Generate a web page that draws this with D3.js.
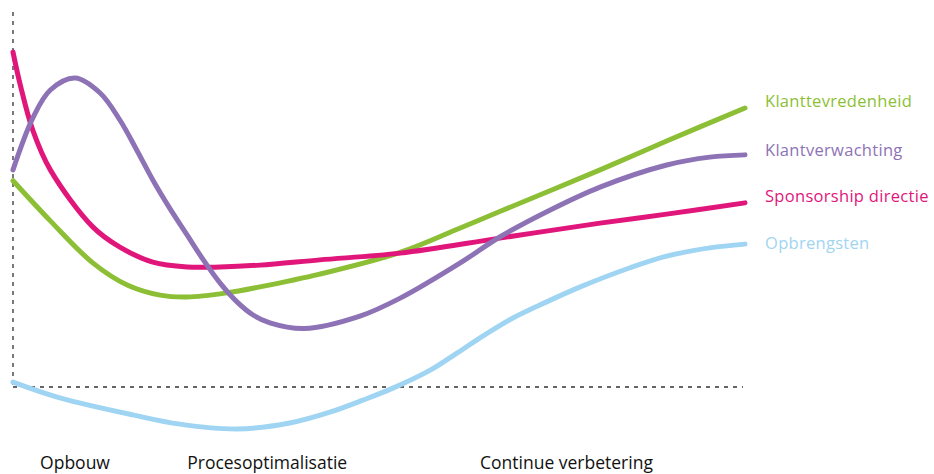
<!DOCTYPE html>
<html>
<head>
<meta charset="utf-8">
<script src="https://cdn.jsdelivr.net/npm/d3@7"></script>
<style>
  html, body { margin: 0; padding: 0; background: #ffffff; }
  svg { display: block; }
  text { font-family: "Open Sans", "Noto Sans", sans-serif; }
</style>
</head>
<body>
<svg id="chart" width="934" height="474"></svg>
<script>
// ---- data (x: 0..100 time, y: value, 0 = baseline) ----
const seriesNames = ["Klanttevredenheid", "Klantverwachting", "Sponsorship directie", "Opbrengsten"];
const seriesColors = ["#8cbf35", "#8d73b6", "#e0167b", "#9fd5f2"];

const klanttevredenheid = [
  [0, 55.0], [5.1, 44.3], [10.9, 33.1], [15.6, 27.2], [20.1, 24.5],
  [23.8, 24.0], [29.2, 25.1], [33.7, 26.7], [41.9, 30.1], [52.9, 35.9], [61.1, 42.4],
  [66.5, 46.8], [80.2, 57.9], [89.3, 65.6], [100, 74.4]
];
const klantverwachting = [
  [0, 57.9], [2.7, 71.7], [5.1, 79.2], [8.5, 82.4], [11.9, 78.4],
  [14.6, 71.2], [16.9, 63.2], [19.1, 55.2], [21.4, 47.7], [23.8, 40.5], [26.0, 33.9],
  [28.3, 27.7], [30.6, 22.7], [32.8, 19.2], [35.1, 17.1], [39.8, 15.6],
  [47.4, 18.9], [52.9, 23.7], [61.1, 33.1], [66.5, 40.0], [73.4, 47.2], [80.2, 53.3],
  [89.3, 59.2], [95.2, 61.3], [100, 61.9]
];
const sponsorship = [
  [0, 89.3], [1.0, 80.5], [2.7, 68.5], [5.1, 57.9], [10.9, 42.7],
  [14.6, 37.3], [19.1, 33.3], [23.8, 32.0], [28.3, 32.0], [33.7, 32.5], [41.9, 33.9], [52.9, 35.7],
  [66.5, 39.7], [80.2, 43.7], [89.3, 46.1], [100, 49.1]
];
const opbrengsten = [
  [0, 1.3], [6.4, -2.9], [16.5, -7.5], [22.8, -9.9], [30.6, -11.2], [37.8, -9.6],
  [43.3, -6.7], [47.8, -3.5], [51.9, -0.3], [57.0, 4.5], [60.7, 9.1], [63.8, 13.1],
  [68.3, 18.4], [72.9, 22.7], [77.5, 26.7], [84.3, 31.8], [89.3, 34.9], [95.2, 37.1], [100, 38.1]
];
const seriesData = [klanttevredenheid, klantverwachting, sponsorship, opbrengsten];

const phaseLabels = ["Opbouw", "Procesoptimalisatie", "Continue verbetering"];
const phaseStarts = [3.7, 23.8, 63.8];

// ---- layout ----
const svg = d3.select("#chart");
const x = d3.scaleLinear().domain([0, 100]).range([13, 745]);
const y = d3.scaleLinear().domain([0, 100]).range([387, 12]);

// axes (dashed)
svg.append("line")
  .attr("x1", x(0)).attr("x2", x(0))
  .attr("y1", y(100)).attr("y2", y(0))
  .attr("stroke", "#333").attr("stroke-width", 1.3)
  .attr("stroke-dasharray", "4,5");
svg.append("line")
  .attr("x1", x(0)).attr("x2", x(100) - 2)
  .attr("y1", y(0)).attr("y2", y(0))
  .attr("stroke", "#333").attr("stroke-width", 1.3)
  .attr("stroke-dasharray", "4,5");

const line = d3.line()
  .x(d => x(d[0]))
  .y(d => y(d[1]))
  .curve(d3.curveCatmullRom.alpha(0.5));

// draw order: blue, green, pink, purple
const order = [3, 0, 2, 1];
order.forEach(i => {
  svg.append("path")
    .datum(seriesData[i])
    .attr("d", line)
    .attr("fill", "none")
    .attr("stroke", seriesColors[i])
    .attr("stroke-width", 5)
    .attr("stroke-linecap", "round")
    .attr("stroke-linejoin", "round");
});

// end labels
const labelDy = [-7, -5, -7, -1];
seriesData.forEach((s, i) => {
  const last = s[s.length - 1];
  svg.append("text")
    .attr("x", x(100) + 20)
    .attr("y", y(last[1]) + labelDy[i])
    .attr("dy", "0.35em")
    .attr("fill", seriesColors[i])
    .attr("font-size", 16.5)
    .attr("letter-spacing", 0.3)
    .text(seriesNames[i]);
});

// phase labels
phaseLabels.forEach((p, i) => {
  svg.append("text")
    .attr("x", x(phaseStarts[i]))
    .attr("y", 469)
    .attr("fill", "#111")
    .attr("font-size", 17.5)
    .text(p);
});
</script>
</body>
</html>
